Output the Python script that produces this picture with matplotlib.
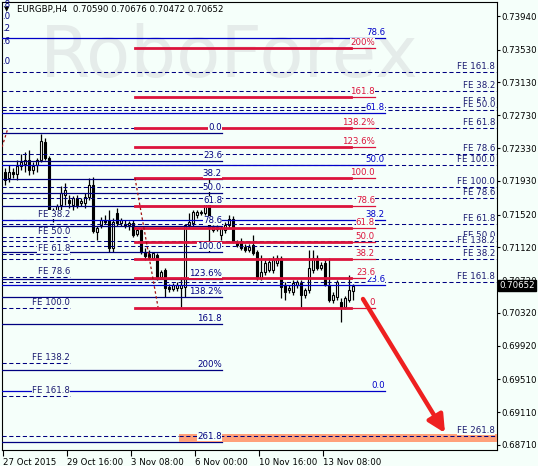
import matplotlib.pyplot as plt
import matplotlib.transforms as mtransforms

# EURGBP H4 candles (bar index 0 = 27 Oct 2015 00:00)
opens = [0.72038, 0.71965, 0.72038, 0.72014, 0.72112, 0.72136, 0.72185, 0.72063, 0.72124, 0.72185,
         0.72404, 0.72209, 0.71550, 0.71514, 0.71636, 0.71758, 0.71697, 0.71636, 0.71721, 0.71660,
         0.71660, 0.71733, 0.71880, 0.71306, 0.71392, 0.71453, 0.71453, 0.71111, 0.71538, 0.71416,
         0.71404, 0.71392, 0.71416, 0.71282, 0.71331, 0.71063, 0.71038, 0.70990, 0.71026, 0.70758,
         0.70843, 0.70636, 0.70612, 0.70624, 0.70624, 0.70636, 0.71392, 0.71416, 0.71514, 0.71538,
         0.71538, 0.71672, 0.71331, 0.71343, 0.71270, 0.71331, 0.71392, 0.71465, 0.71185, 0.71185,
         0.71124, 0.71087, 0.71148, 0.71063, 0.70746, 0.70819, 0.70843, 0.70843, 0.70929, 0.70990,
         0.70660, 0.70599, 0.70575, 0.70660, 0.70685, 0.70538, 0.70599, 0.70843, 0.70990, 0.70868,
         0.70929, 0.70660, 0.70478, 0.70514, 0.70453, 0.70392, 0.70478, 0.70590]
highs = [0.72087, 0.72124, 0.72087, 0.72185, 0.72258, 0.72282, 0.72306, 0.72160, 0.72209, 0.72501,
         0.72453, 0.72233, 0.71599, 0.71648, 0.71867, 0.71904, 0.71758, 0.71746, 0.71758, 0.71721,
         0.71782, 0.71965, 0.71977, 0.71380, 0.71490, 0.71514, 0.71574, 0.71477, 0.71599, 0.71477,
         0.71453, 0.71441, 0.71453, 0.71355, 0.71355, 0.71111, 0.71087, 0.71063, 0.71051, 0.70843,
         0.70868, 0.70673, 0.70685, 0.70697, 0.70758, 0.71404, 0.71538, 0.71574, 0.71574, 0.71574,
         0.71721, 0.71977, 0.71392, 0.71392, 0.71380, 0.71429, 0.71514, 0.71502, 0.71209, 0.71233,
         0.71160, 0.71160, 0.71270, 0.71087, 0.71026, 0.70965, 0.70990, 0.71014, 0.71026, 0.71014,
         0.70697, 0.70660, 0.70722, 0.70722, 0.70722, 0.70624, 0.71087, 0.71087, 0.71026, 0.70941,
         0.70965, 0.70990, 0.70575, 0.70722, 0.70502, 0.70526, 0.70782, 0.70676]
lows = [0.71880, 0.71916, 0.71965, 0.71941, 0.72063, 0.72038, 0.72001, 0.72014, 0.72038, 0.72160,
        0.72185, 0.71502, 0.71429, 0.71477, 0.71574, 0.71636, 0.71599, 0.71574, 0.71599, 0.71623,
        0.71599, 0.71697, 0.71294, 0.71209, 0.71355, 0.71404, 0.71063, 0.71063, 0.71380, 0.71380,
        0.71355, 0.71331, 0.71245, 0.71258, 0.71038, 0.70965, 0.70977, 0.70965, 0.70722, 0.70734,
        0.70514, 0.70575, 0.70587, 0.70587, 0.70392, 0.70514, 0.71355, 0.71380, 0.71477, 0.71514,
        0.71514, 0.71063, 0.71306, 0.71318, 0.71209, 0.71294, 0.71355, 0.71172, 0.71124, 0.71087,
        0.71063, 0.71063, 0.71026, 0.70722, 0.70722, 0.70782, 0.70819, 0.70807, 0.70892, 0.70502,
        0.70478, 0.70563, 0.70538, 0.70624, 0.70392, 0.70502, 0.70563, 0.70807, 0.70843, 0.70843,
        0.70648, 0.70453, 0.70441, 0.70478, 0.70209, 0.70368, 0.70453, 0.70472]
closes = [0.71941, 0.72038, 0.72014, 0.72112, 0.72160, 0.72185, 0.72063, 0.72112, 0.72185, 0.72417,
          0.72209, 0.71538, 0.71490, 0.71623, 0.71782, 0.71819, 0.71660, 0.71721, 0.71636, 0.71685,
          0.71733, 0.71880, 0.71318, 0.71355, 0.71453, 0.71429, 0.71111, 0.71429, 0.71416, 0.71453,
          0.71380, 0.71416, 0.71270, 0.71331, 0.71063, 0.71014, 0.71002, 0.71051, 0.70758, 0.70819,
          0.70624, 0.70612, 0.70660, 0.70660, 0.70660, 0.71392, 0.71429, 0.71550, 0.71550, 0.71550,
          0.71672, 0.71355, 0.71367, 0.71367, 0.71355, 0.71392, 0.71465, 0.71185, 0.71148, 0.71111,
          0.71087, 0.71124, 0.71051, 0.70746, 0.70819, 0.70929, 0.70941, 0.70965, 0.70990, 0.70636,
          0.70575, 0.70624, 0.70685, 0.70697, 0.70538, 0.70599, 0.70868, 0.70990, 0.70868, 0.70904,
          0.70660, 0.70478, 0.70538, 0.70697, 0.70392, 0.70502, 0.70599, 0.70652]

# red fibo expansion
red_labels = ["200%", "161.8", "138.2%", "123.6%", "100.0", "78.6", "61.8", "50.0", "38.2", "23.6", "0"]
red_prices = [0.73550, 0.72952, 0.72575, 0.72343, 0.71965, 0.71624, 0.71355, 0.71185, 0.70977, 0.70746, 0.70380]
red_start, red_mid, red_end = 32.5, 86.5, 92.5

# navy fibo
navy_labels = ["0.0", "23.6", "38.2", "50.0", "61.8", "78.6", "100.0", "123.6%", "138.2%", "161.8", "200%", "261.8"]
navy_prices = [0.72514, 0.72172, 0.71953, 0.71782, 0.71624, 0.71380, 0.71063, 0.70734, 0.70514, 0.70185, 0.69624, 0.68747]
navy_end = 54.25

# blue retracement
blue_labels = ["78.6", "61.8", "50.0", "38.2", "23.6", "0.0"]
blue_prices = [0.73672, 0.72757, 0.72124, 0.71453, 0.70660, 0.69368]
blue_end = 95.0

# FE levels, right side
fe_labels = ["FE 161.8", "FE 38.2", "FE 61.8", "FE 50.0", "FE 61.8", "FE 78.6", "FE 100.0", "FE 100.0",
             "FE 78.6", "FE 61.8", "FE 50.0", "FE 138.2", "FE 38.2", "FE 161.8", "FE 261.8"]
fe_prices = [0.73257, 0.73026, 0.72831, 0.72794, 0.72575, 0.72258, 0.72124, 0.71855,
             0.71721, 0.71404, 0.71197, 0.71136, 0.70977, 0.70697, 0.68820]

# FE levels, left side
fel_labels = ["FE 38.2", "FE 50.0", "FE 61.8", "FE 78.6", "FE 100.0", "FE 138.2", "FE 161.8"]
fel_prices = [0.71453, 0.71246, 0.71038, 0.70758, 0.70380, 0.69712, 0.69307]
fel_end = 16.25

# target zone
zone_lo, zone_hi, zone_start = 0.68747, 0.68844, 43.5

ytick_vals = [0.73940, 0.73530, 0.73130, 0.72730, 0.72330, 0.71930, 0.71520,
              0.71120, 0.70720, 0.70320, 0.69920, 0.69510, 0.69110, 0.68710]
xtick_pos = [-0.5, 15.5, 31.5, 47.5, 63.5, 79.5]
xtick_labels = ["27 Oct 2015", "29 Oct 16:00", "3 Nov 08:00", "6 Nov 00:00", "10 Nov 16:00", "13 Nov 08:00"]

bg = "#f5fffa"
navy = "#000080"
blue = "#0000c8"
red = "#dc143c"
fs = 6.2

fig = plt.figure(figsize=(5.38, 4.66), dpi=100, facecolor=bg)
ax = fig.add_axes([2 / 538, 16 / 466, 495 / 538, 448 / 466], facecolor=bg)
ax.set_xlim(-0.75, 123)
ax.set_ylim(0.68649, 0.74111)

ax.text(0.46, 0.875, "RoboForex", transform=ax.transAxes, ha="center", va="center",
        fontsize=52, color="#e5ecea", zorder=0)

# candles
for i in range(len(opens)):
    o, h, l, c = opens[i], highs[i], lows[i], closes[i]
    ax.vlines(i, l, h, color="black", lw=0.9, zorder=2)
    body = max(abs(c - o), 0.00003)
    ax.bar(i, body, 0.62, bottom=min(o, c), color="white" if c >= o else "black",
           edgecolor="black", lw=0.8, zorder=2.5)

dash = (0, (4, 2.5))
lab = dict(fontsize=fs, ha="right", va="bottom", textcoords="offset points", zorder=5,
           bbox=dict(fc=bg, ec="none", pad=0.2))

for y in fe_prices:
    ax.plot([-0.75, 123], [y, y], color=navy, lw=0.75, ls=dash, zorder=3)
for y in fel_prices:
    ax.plot([-0.75, fel_end], [y, y], color=navy, lw=0.75, ls=dash, zorder=3)
for y in navy_prices:
    ax.plot([-0.75, navy_end], [y, y], color=navy, lw=0.9, zorder=3)
for y in blue_prices:
    ax.plot([-0.75, blue_end], [y, y], color=blue, lw=0.9, zorder=3)
for y in red_prices:
    ax.plot([red_start, red_mid], [y, y], color=red, lw=2.0, zorder=3.2)
    ax.plot([red_mid, red_end], [y, y], color=red, lw=0.9, zorder=3.2)

ax.fill_between([zone_start, 123], zone_lo, zone_hi, color="#ffa07a", lw=0, zorder=3.1)
ax.plot([zone_start, 123], [fe_prices[-1], fe_prices[-1]], color=navy, lw=0.75, ls=dash, zorder=3.15)

for t, y in zip(fe_labels, fe_prices):
    ax.annotate(t, (122.5, y), xytext=(0, 0.6), color="#1a1a70", **lab)
for t, y in zip(fel_labels, fel_prices):
    ax.annotate(t, (fel_end, y), xytext=(0, 0.6), color="#1a1a70", **lab)
for t, y in zip(navy_labels, navy_prices):
    ax.annotate(t, (navy_end, y), xytext=(0, 0.6), color=navy, **lab)
for t, y in zip(blue_labels, blue_prices):
    ax.annotate(t, (blue_end, y), xytext=(0, 0.6), color=blue, **lab)
for t, y in zip(red_labels, red_prices):
    ax.annotate(t, (red_end, y), xytext=(0, 0.6), color=red, **lab)

# cut-off labels of objects left of the window
for t, y in zip([".8", ".0", ".2", ".6", ".0"], [0.74080, 0.73940, 0.73790, 0.73630, 0.73380]):
    ax.text(-0.75, y, t, fontsize=fs, color=navy, ha="left", va="center", zorder=5)

# dotted connectors
ax.plot([32.5, 38.25], [0.71965, 0.70392], color="#a01010", lw=0.9, ls=(0, (2, 2)), zorder=3.3)
ax.plot([-0.75, 0.75], [0.72343, 0.72575], color="#a01010", lw=0.9, ls=(0, (2, 2)), zorder=3.3)

# target arrow
ax.annotate("", xy=(110, 0.68856), xytext=(89.5, 0.70490),
            arrowprops=dict(arrowstyle="-|>", color="#ee2020", lw=3.2, mutation_scale=26,
                            shrinkA=0, shrinkB=0), zorder=6)

ax.set_yticks(ytick_vals)
ax.set_yticklabels([f"{v:.5f}" for v in ytick_vals])
ax.yaxis.tick_right()
ax.tick_params(axis="y", labelsize=fs, length=2.5, pad=1, width=0.8)
ax.set_xticks(xtick_pos)
ax.set_xticklabels(xtick_labels, ha="left")
ax.tick_params(axis="x", labelsize=fs, length=4, pad=1.5, width=0.8)
for s in ax.spines.values():
    s.set_color("black")
    s.set_linewidth(0.8)

# current price tag
trans = mtransforms.blended_transform_factory(ax.transAxes, ax.transData)
ax.annotate("0.70652", (1.0, 0.70652), xycoords=trans, xytext=(1.5, 0), textcoords="offset points",
            ha="left", va="center", fontsize=fs, color="white", annotation_clip=False,
            bbox=dict(fc="black", ec="black", pad=0.8), zorder=7)

ax.text(0.005, 0.983, "\u25bc", transform=ax.transAxes, fontsize=5, ha="left", va="center")
ax.text(0.031, 0.983, "EURGBP,H4  0.70590 0.70676 0.70472 0.70652", transform=ax.transAxes,
        fontsize=fs, ha="left", va="center", color="black")

fig.savefig("out.png", dpi=100, facecolor=bg)
